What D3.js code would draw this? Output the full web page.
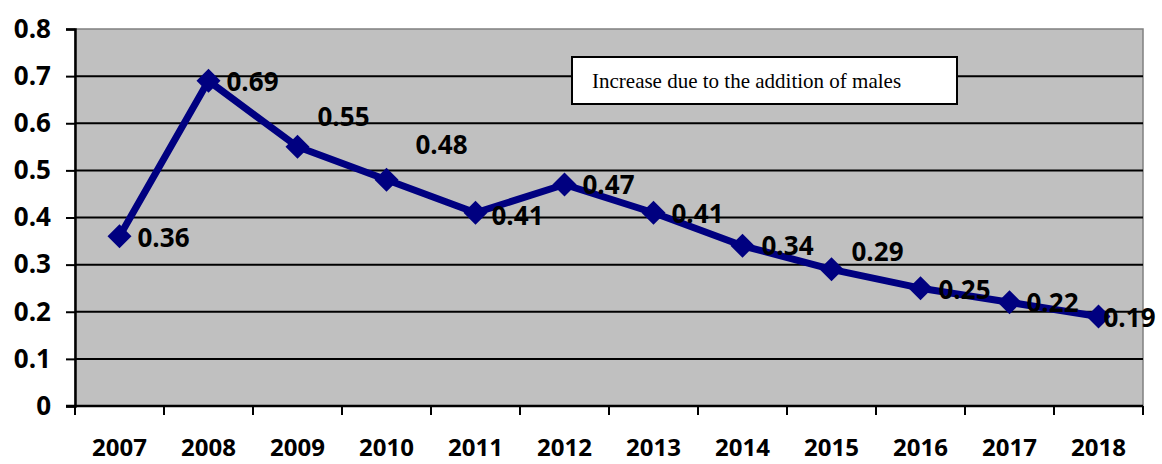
<!DOCTYPE html>
<html>
<head>
<meta charset="utf-8">
<script src="https://cdn.jsdelivr.net/npm/d3@7"></script>
<style>
  html, body { margin: 0; padding: 0; background: #fff; }
  svg { display: block; }
</style>
</head>
<body>
<svg id="chart" width="1162" height="464"></svg>
<script>
// Yearly values of the increase
const years = ["2007","2008","2009","2010","2011","2012","2013","2014","2015","2016","2017","2018"];
const values = [0.36, 0.69, 0.55, 0.48, 0.41, 0.47, 0.41, 0.34, 0.29, 0.25, 0.22, 0.19];
const yTicks = [0, 0.1, 0.2, 0.3, 0.4, 0.5, 0.6, 0.7, 0.8];
// Label offsets (dx, dy) relative to each point
const labelDx = [18, 18, 20, 29, 16, 18, 18, 19, 20, 18, 17, 5];
const labelDy = [1, 1, -30, -35, 3, 0, 1, 0, -18, 1, 0, 1];
const noteText = "Increase due to the addition of males";

const svg = d3.select("#chart");
const m = { left: 75, right: 1143, top: 29, bottom: 406 };

const x = d3.scaleBand().domain(years).range([m.left, m.right]);
const y = d3.scaleLinear().domain([0, 0.8]).range([m.bottom, m.top]);

// Plot background
svg.append("rect")
  .attr("x", m.left).attr("y", m.top)
  .attr("width", m.right - m.left).attr("height", m.bottom - m.top)
  .attr("fill", "#c0c0c0")
  .attr("stroke", "#808080").attr("stroke-width", 1.5);

// Horizontal gridlines
svg.append("g").selectAll("line")
  .data(yTicks.filter(d => d > 0 && d < 0.8))
  .join("line")
  .attr("x1", m.left).attr("x2", m.right)
  .attr("y1", d => y(d)).attr("y2", d => y(d))
  .attr("stroke", "#000").attr("stroke-width", 2);

const font = "'Open Sans', 'DejaVu Sans', sans-serif";

// Y axis
const yAxis = svg.append("g")
  .attr("transform", `translate(${m.left},0)`)
  .call(d3.axisLeft(y).tickValues(yTicks).tickSize(9).tickPadding(15)
    .tickFormat(d => d === 0 ? "0" : d3.format(".1f")(d)));
yAxis.select(".domain").attr("stroke", "#000").attr("stroke-width", 2.5);
yAxis.selectAll(".tick line").attr("stroke", "#000").attr("stroke-width", 2);
yAxis.selectAll(".tick text")
  .attr("font-family", font).attr("font-weight", "bold")
  .attr("font-size", 26).attr("fill", "#000");

// X axis with ticks at category boundaries
const xAxis = svg.append("g")
  .attr("transform", `translate(0,${m.bottom})`);
xAxis.append("line")
  .attr("x1", m.left - 9).attr("x2", m.right)
  .attr("stroke", "#000").attr("stroke-width", 2.5);
const bounds = years.map(d => x(d)).concat([m.right]);
xAxis.selectAll("line.tk").data(bounds).join("line")
  .attr("class", "tk")
  .attr("x1", d => d).attr("x2", d => d)
  .attr("y1", 0).attr("y2", 9)
  .attr("stroke", "#000").attr("stroke-width", 2);
xAxis.selectAll("text").data(years).join("text")
  .attr("x", d => x(d) + x.bandwidth() / 2)
  .attr("y", 50)
  .attr("text-anchor", "middle")
  .attr("font-family", font).attr("font-weight", "bold")
  .attr("font-size", 24).attr("fill", "#000")
  .text(d => d);

// Note box
const nx = 572, ny = 57;
svg.append("rect")
  .attr("x", nx).attr("y", ny).attr("width", 385).attr("height", 47)
  .attr("fill", "#fff").attr("stroke", "#000").attr("stroke-width", 2);
svg.append("text")
  .attr("x", nx + 20).attr("y", ny + 31)
  .attr("font-family", "'Liberation Serif', 'Times New Roman', serif")
  .attr("font-size", 21).attr("fill", "#000")
  .text(noteText);

// Line series
const cx = d => x(d) + x.bandwidth() / 2;
const pts = years.map((yr, i) => [cx(yr), y(values[i])]);
svg.append("path")
  .datum(pts)
  .attr("d", d3.line())
  .attr("fill", "none")
  .attr("stroke", "#000080").attr("stroke-width", 7)
  .attr("stroke-linejoin", "round");

// Diamond markers
svg.append("g").selectAll("path")
  .data(pts)
  .join("path")
  .attr("transform", d => `translate(${d[0]},${d[1]})`)
  .attr("d", "M0,-12L12,0L0,12L-12,0Z")
  .attr("fill", "#000080");

// Value labels
svg.append("g").selectAll("text")
  .data(values)
  .join("text")
  .attr("x", (d, i) => pts[i][0] + labelDx[i])
  .attr("y", (d, i) => pts[i][1] + labelDy[i])
  .attr("dy", "0.36em")
  .attr("font-family", font).attr("font-weight", "bold")
  .attr("font-size", 26).attr("fill", "#000")
  .text(d => d3.format(".2f")(d));
</script>
</body>
</html>
